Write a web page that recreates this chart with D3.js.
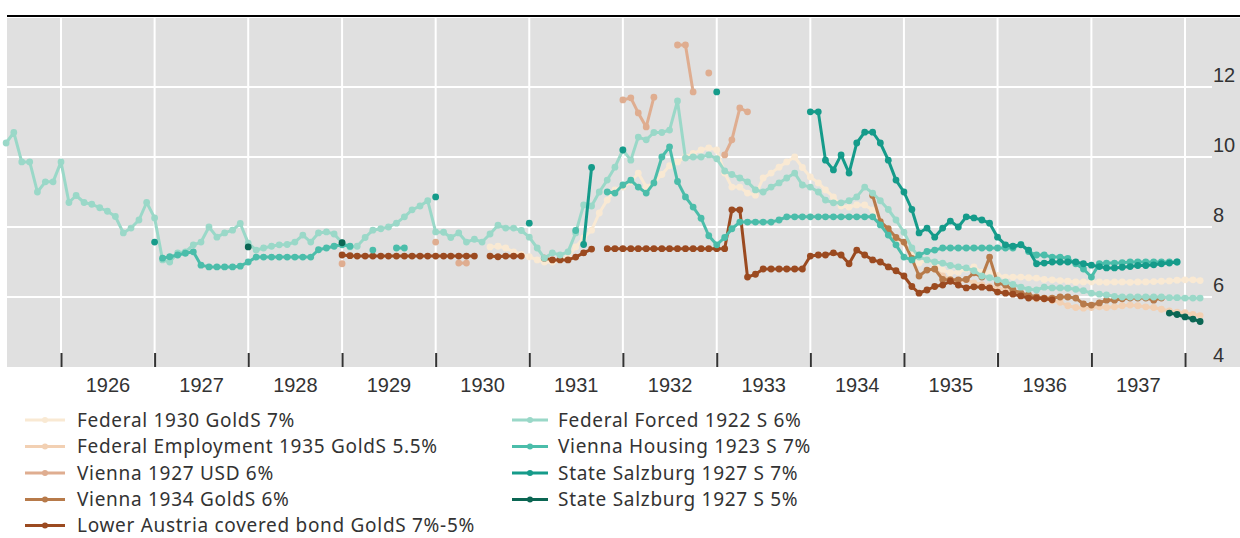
<!DOCTYPE html>
<html>
<head>
<meta charset="utf-8">
<script src="https://cdn.jsdelivr.net/npm/d3@7"></script>
<style>
  body { margin: 0; background: #fff; }
  svg { display: block; font-family: "Noto Sans", "Open Sans", sans-serif; }
</style>
</head>
<body>
<div id="chart"></div>
<script>
// ---- data: monthly yields (%) ----
const years = [1926, 1927, 1928, 1929, 1930, 1931, 1932, 1933, 1934, 1935, 1936, 1937];
const yTicks = [4, 6, 8, 10, 12];

const federal1930Start = "1930-08";
const federal1930 = [
  7.43, 7.45, 7.4, 7.29, 7.22,
  7.15, 7.06, 7.0, 7.0, 7.06, 7.14, 7.43, 7.69, 7.91, 8.4, 8.77, 9.06,
  9.14, 9.29, 9.54, 9.14, 9.26, 9.5, 9.75, 9.86, 10.0, 10.1, 10.2, 10.26,
  10.2, 9.54, 9.14, 9.14, 8.97, 8.91, 9.4, 9.54, 9.71, 9.86, 10.0, 9.7,
  9.43, 9.26, 9.06, 8.86, 8.6, 8.57, 8.63, 8.63, 8.49, 8.15, 7.9, 7.6,
  7.54, 7.2, 6.97, 7.06, 6.95, 6.77, 6.69, 6.71, 6.8, 6.86, 6.71, 6.69,
  6.62, 6.57, 6.57, 6.57, 6.55, 6.54, 6.5, 6.49, 6.47, 6.45, 6.43, 6.43,
  6.43, 6.43, 6.42, 6.43, 6.43, 6.42, 6.43, 6.43, 6.44, 6.45, 6.46, 6.48,
  6.49, 6.49, 6.47
];

const federalEmploymentStart = "1935-05";
const federalEmployment = [
  6.8, 6.6, 6.5, 6.45, 6.5, 6.4, 6.35, 6.3,
  6.25, 6.2, 6.15, 6.05, 6.0, 5.95, 5.95, 5.9, 5.85, 5.75, 5.7, 5.68,
  5.7, 5.72, 5.7, 5.72, 5.75, 5.77, 5.75, 5.72, 5.7, 5.65, 5.6, 5.57,
  5.55, 5.5, 5.47
];

const vienna1927UsdMonths = ["1929-01", "1930-01", "1930-04", "1930-05",
  "1932-01", "1932-02", "1932-03", "1932-04", "1932-05", "1932-08", "1932-09", "1932-10",
  "1932-12", "1933-02", "1933-03", "1933-04", "1933-05"];
const vienna1927Usd = [6.95, 7.57, 6.97, 6.97,
  11.63, 11.69, 11.26, 10.86, 11.71, 13.2, 13.2, 11.86,
  12.4, 10.06, 10.49, 11.4, 11.29];

const vienna1934Start = "1934-09";
const vienna1934 = [
  8.9, 8.15, 7.95, 7.7,
  7.57, 7.1, 6.6, 6.77, 6.8, 6.5, 6.49, 6.49, 6.5, 6.69, 6.57, 7.14,
  6.4, 6.34, 6.2, 6.11, 6.06, 6.0, 5.97, 5.97, 6.0, 6.0, 5.97, 5.8,
  5.77, 5.83, 5.91, 5.91, 5.95, 5.97, 5.97, 5.97, 5.91, 5.97
];

const lowerAustriaStart = "1929-01";
const lowerAustria = [
  7.2, 7.18, 7.17, 7.17, 7.17, 7.17, 7.17, 7.17, 7.17, 7.17, 7.17, 7.17,
  7.17, 7.17, 7.17, 7.17, 7.17, 7.17, null, 7.17, 7.15, 7.17, 7.17, 7.17,
  null, null, 7.11, 7.06, 7.06, 7.06, 7.14, 7.26, 7.37, null, 7.38, 7.38,
  7.38, 7.38, 7.38, 7.38, 7.38, 7.38, 7.38, 7.38, 7.38, 7.38, 7.38, 7.38,
  7.38, 7.38, 8.49, 8.49, 6.57, 6.65, 6.8, 6.8, 6.8, 6.8, 6.8, 6.8,
  7.17, 7.2, 7.2, 7.26, 7.2, 6.95, 7.34, 7.2, 7.06, 7.0, 6.86, 6.75,
  6.6, 6.3, 6.11, 6.2, 6.3, 6.34, 6.45, 6.34, 6.26, 6.29, 6.28, 6.26,
  6.14, 6.11, 6.08, 6.03, 5.97, 5.97, 5.95, 5.92
];

const federalForcedStart = "1925-06";
const federalForced = [
  10.4, 10.7, 9.86, 9.86, 9.0, 9.29, 9.29,
  9.86, 8.7, 8.9, 8.7, 8.65, 8.55, 8.45, 8.3, 7.83, 7.97, 8.2, 8.7,
  8.26, 7.06, 7.0, 7.26, 7.29, 7.49, 7.57, 8.0, 7.71, 7.83, 7.91, 8.1,
  7.54, 7.34, 7.4, 7.45, 7.49, 7.5, 7.57, 7.77, 7.57, 7.83, 7.86, 7.8,
  7.55, 7.43, 7.45, 7.7, 7.91, 7.95, 8.0, 8.11, 8.29, 8.49, 8.6, 8.75,
  7.86, 7.85, 7.7, 7.83, 7.57, 7.65, 7.57, 7.8, 8.05, 7.97, 7.97, 7.9,
  7.71, 7.4, 7.11, 7.26, 7.2, 7.29, 7.83, 8.63, 8.6, 9.0, 9.34, 9.71,
  10.2, 9.91, 10.57, 10.49, 10.7, 10.7, 10.77, 11.6, 9.97, 10.0, 10.0, 10.06,
  9.95, 9.6, 9.5, 9.4, 9.29, 9.06, 9.0, 9.14, 9.26, 9.4, 9.54, 9.2,
  9.14, 9.0, 8.77, 8.69, 8.69, 8.75, 8.86, 9.14, 8.97, 8.75, 8.5, 8.2,
  7.85, 7.4, 7.14, 7.06, 7.0, 6.97, 6.9, 6.86, 6.83, 6.75, 6.6, 6.55,
  6.49, 6.43, 6.36, 6.28, 6.22, 6.2, 6.28, 6.26, 6.26, 6.25, 6.22, 6.18,
  6.11, 6.08, 6.06, 6.02, 6.0, 6.0, 6.0, 6.0, 6.0, 6.0, 5.98, 5.98,
  5.97, 5.97, 5.97
];

const viennaHousingStart = "1927-02";
const viennaHousing = [
  7.11, 7.15, 7.2, 7.25, 7.29, 6.91, 6.86, 6.86, 6.86, 6.86, 6.88,
  7.0, 7.14, 7.14, 7.14, 7.14, 7.14, 7.14, 7.14, 7.14, 7.35, 7.4, 7.45,
  7.49, 7.45, null, null, 7.34, null, null, 7.4, 7.4, null, null, null,
  null, null, null, null, null, null, null, null, null, null, null, null,
  null, null, null, null, null, null, 7.9, null, null, null, 9.0, 8.97,
  9.2, 9.34, 9.14, 8.97, 9.26, 10.0, 10.29, 9.3, 8.86, 8.57, 8.25, 7.75,
  7.49, 7.7, 7.95, 8.14, 8.14, 8.14, 8.14, 8.14, 8.2, 8.29, 8.29, 8.29,
  8.29, 8.29, 8.29, 8.29, 8.29, 8.29, 8.29, 8.29, 8.29, 8.06, 7.77, 7.49,
  7.14, 7.06, 7.2, 7.3, 7.34, 7.4, 7.4, 7.4, 7.4, 7.4, 7.4, 7.4,
  7.4, 7.4, 7.4, 7.5, 7.3, 7.2, 7.2, 7.14, 7.14, 7.1, 6.95, 6.8,
  6.57, 6.95, 6.97, 6.97, 6.98, 7.0, 7.0, 7.0, 7.0, 7.0, 7.0, 7.0
];

const salzburg7Months = ["1927-01", "1930-01", "1931-01", "1931-08", "1931-09", "1932-01", "1933-01"];
const salzburg7Sparse = [7.57, 8.86, 8.11, 7.5, 9.7, 10.2, 11.86];
const salzburg7Start = "1934-01";
const salzburg7 = [
  11.29, 11.29, 9.91, 9.63, 10.06, 9.54, 10.4, 10.71, 10.71, 10.4, 9.91, 9.34,
  9.0, 8.5, 7.83, 7.97, 7.71, 7.97, 8.17, 8.0, 8.29, 8.26, 8.2, 8.11,
  7.71, 7.49, 7.45, 7.49, 7.34, 6.95, 6.97, 7.0, 7.0, 7.0, 7.0, 6.95,
  6.91, 6.87, 6.83, 6.83, 6.85, 6.87, 6.9, 6.9, 6.92, 6.95, 6.97, 7.0
];

const salzburg5Months = ["1928-01", "1929-01", "1937-11", "1937-12", "1938-01", "1938-02", "1938-03"];
const salzburg5 = [7.43, 7.55, 5.54, 5.5, 5.43, 5.37, 5.3];

// ---- helpers ----
function monthIndex(s) {
  const [yy, mm] = s.split("-").map(Number);
  return yy * 12 + (mm - 1);
}
function fromStart(start, values) {
  const k0 = monthIndex(start);
  return values.map((v, i) => ({ k: k0 + i, v })).filter(d => d.v != null);
}
function fromMonths(months, values) {
  return months.map((s, i) => ({ k: monthIndex(s), v: values[i] }));
}
const toDate = k => new Date(Date.UTC(Math.floor(k / 12), k % 12, 1));

const series = [
  { name: "Federal 1930 GoldS 7%", color: "#f9e9d3", pts: fromStart(federal1930Start, federal1930) },
  { name: "Federal Employment 1935 GoldS 5.5%", color: "#f2d0b3", pts: fromStart(federalEmploymentStart, federalEmployment) },
  { name: "Vienna 1927 USD 6%", color: "#dfad90", pts: fromMonths(vienna1927UsdMonths, vienna1927Usd) },
  { name: "Vienna 1934 GoldS 6%", color: "#b77a4a", pts: fromStart(vienna1934Start, vienna1934) },
  { name: "Lower Austria covered bond GoldS 7%-5%", color: "#9b4a20", pts: fromStart(lowerAustriaStart, lowerAustria) },
  { name: "Federal Forced 1922 S 6%", color: "#9ad8c8", pts: fromStart(federalForcedStart, federalForced) },
  { name: "Vienna Housing 1923 S 7%", color: "#4bbdaa", pts: fromStart(viennaHousingStart, viennaHousing) },
  { name: "State Salzburg 1927 S 7%", color: "#159b8a",
    pts: fromMonths(salzburg7Months, salzburg7Sparse).concat(fromStart(salzburg7Start, salzburg7)) },
  { name: "State Salzburg 1927 S 5%", color: "#0b6653", pts: fromMonths(salzburg5Months, salzburg5) }
];

// split into runs of consecutive months
function runs(pts) {
  const out = [];
  let cur = [];
  pts.forEach(p => {
    if (cur.length && p.k !== cur[cur.length - 1].k + 1) { out.push(cur); cur = []; }
    cur.push(p);
  });
  if (cur.length) out.push(cur);
  return out;
}

// ---- layout ----
const W = 1240, H = 538;
const panel = { left: 7, top: 18, right: 1240, bottom: 367 };
const gridRight = 1212;

const x = d3.scaleUtc()
  .domain([toDate(monthIndex("1926-01")), toDate(monthIndex("1938-01"))])
  .range([61, 1185]);
const y = d3.scaleLinear().domain([4, 14]).range([367, 17]);

const svg = d3.select("#chart").append("svg")
  .attr("width", W).attr("height", H)
  .attr("viewBox", [0, 0, W, H]);

svg.append("rect")
  .attr("x", panel.left).attr("y", panel.top)
  .attr("width", panel.right - panel.left).attr("height", panel.bottom - panel.top)
  .attr("fill", "#e0e0e0");

svg.append("line")
  .attr("x1", panel.left).attr("x2", W).attr("y1", 16).attr("y2", 16)
  .attr("stroke", "#000").attr("stroke-width", 2);

// gridlines
const yearDates = years.concat([1938]).map(yr => toDate(yr * 12));
svg.append("g").selectAll("line.h").data(yTicks.filter(t => t > 4)).join("line")
  .attr("x1", panel.left).attr("x2", gridRight)
  .attr("y1", d => y(d)).attr("y2", d => y(d))
  .attr("stroke", "#fff").attr("stroke-width", 2);
svg.append("g").selectAll("line.v").data(yearDates).join("line")
  .attr("x1", d => x(d)).attr("x2", d => x(d))
  .attr("y1", panel.top).attr("y2", panel.bottom)
  .attr("stroke", "#fff").attr("stroke-width", 2);

// tick marks inside the panel bottom
const xAxis = svg.append("g")
  .attr("transform", `translate(0,${panel.bottom})`)
  .call(d3.axisTop(x).tickValues(yearDates).tickSize(14).tickFormat(""));
xAxis.select(".domain").remove();
xAxis.selectAll(".tick line").attr("stroke", "#333").attr("stroke-width", 2);

// year labels centered in each year
const yearLabels = svg.append("g")
  .attr("transform", `translate(0,${panel.bottom})`)
  .call(d3.axisBottom(x)
    .tickValues(years.map(yr => toDate(yr * 12 + 6)))
    .tickSize(0)
    .tickFormat(d => d.getUTCFullYear()));
yearLabels.select(".domain").remove();
yearLabels.selectAll("text")
  .attr("y", 18).attr("dy", "0.35em")
  .attr("fill", "#333").style("font-size", "20px");

// right y labels
const yAxis = svg.append("g")
  .attr("transform", `translate(${gridRight},0)`)
  .call(d3.axisRight(y).tickValues(yTicks).tickSize(0));
yAxis.select(".domain").remove();
yAxis.selectAll("text")
  .attr("x", 1).attr("dy", "-0.3em")
  .attr("text-anchor", "start")
  .attr("fill", "#333").style("font-size", "20px");

// series
const line = d3.line().x(d => x(toDate(d.k))).y(d => y(d.v));
const gSeries = svg.append("g");
series.forEach(s => {
  const g = gSeries.append("g");
  runs(s.pts).filter(r => r.length > 1).forEach(r => {
    g.append("path").attr("d", line(r))
      .attr("fill", "none").attr("stroke", s.color)
      .attr("stroke-width", 3).attr("stroke-linejoin", "round");
  });
  g.selectAll("circle").data(s.pts).join("circle")
    .attr("cx", d => x(toDate(d.k))).attr("cy", d => y(d.v))
    .attr("r", 3.4).attr("fill", s.color);
});

// legend
const rowY = [420, 446.5, 473, 499.5, 525.5];
const legend = svg.append("g");
series.forEach((s, i) => {
  const col = i < 5 ? 0 : 1;
  const row = i < 5 ? i : i - 5;
  const x0 = col === 0 ? 25 : 512;
  const len = col === 0 ? 40 : 36;
  const gy = rowY[row];
  const g = legend.append("g");
  g.append("line").attr("x1", x0).attr("x2", x0 + len).attr("y1", gy).attr("y2", gy)
    .attr("stroke", s.color).attr("stroke-width", 3);
  g.append("circle").attr("cx", x0 + len / 2).attr("cy", gy).attr("r", 3).attr("fill", s.color);
  g.append("text").attr("x", col === 0 ? 77 : 558).attr("y", gy).attr("dy", "0.35em")
    .attr("fill", "#333").style("font-size", "19px").style("letter-spacing", "0.7px")
    .text(s.name);
});
</script>
</body>
</html>
